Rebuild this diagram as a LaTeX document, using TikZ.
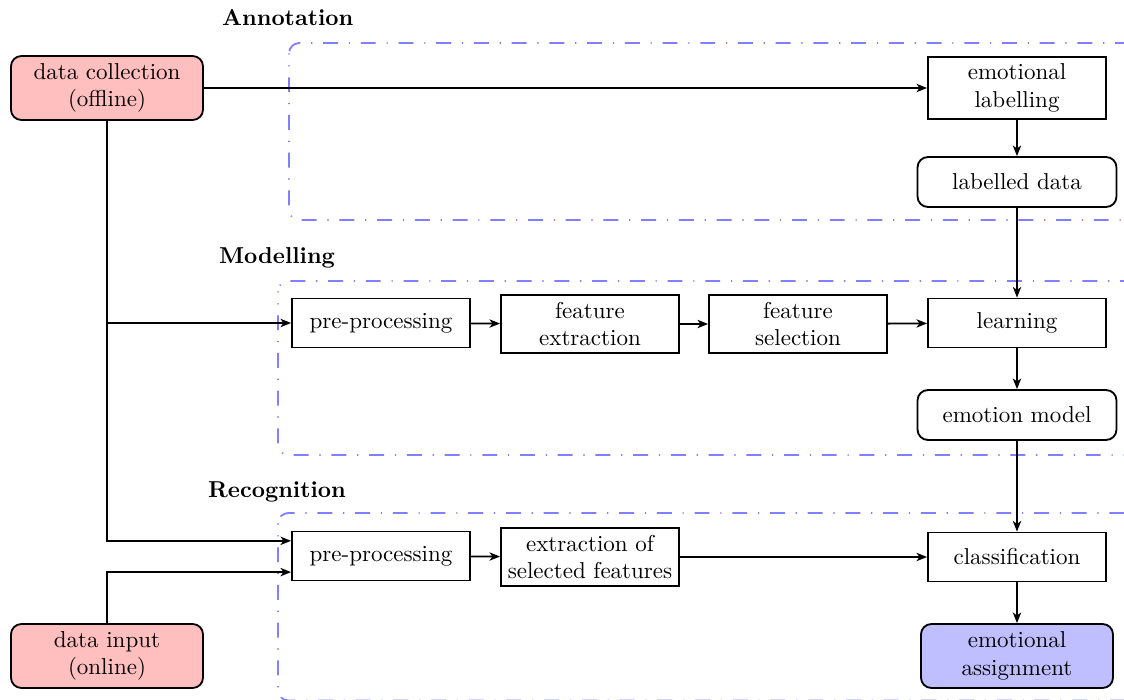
\documentclass[tikz,border=0pt]{standalone}
\usetikzlibrary{arrows.meta}
\begin{document}
\begin{tikzpicture}[x=0.4348pt, y=-0.4348pt,
  every node/.style={font=\normalsize},
  proc/.style={draw, thick, rectangle, minimum width=77.4pt, minimum height=21.3pt, align=center, inner sep=2pt},
  proc2/.style={proc, minimum height=25.4pt},
  datum/.style={draw, thick, rectangle, rounded corners=4.5pt, minimum width=86.5pt, minimum height=21.7pt, align=center},
  source/.style={draw, thick, rectangle, rounded corners=4.5pt, fill=red!25, minimum width=83.5pt, minimum height=27.8pt, align=center, inner sep=2pt},
  result/.style={source, fill=blue!25},
  stage/.style={draw=blue!50, thick, rounded corners=4.5pt, dash pattern=on 6.5pt off 4.7pt on 0.5pt off 4.7pt, dash phase=6pt},
  stagelabel/.style={anchor=west, font=\bfseries},
  flow/.style={thick, -{Stealth[length=4.6pt, width=3.6pt, inset=1.3pt]}}]
\clip (0,0) rectangle (1124,700);

% stage frames (open towards the right)
\draw[stage] (289,43) rectangle (1160,220);
\draw[stage] (278,281) rectangle (1160,455);
\draw[stage] (278,513) rectangle (1160,700.5);
\node[stagelabel] (lab1) at (214,18) {Annotation};
\node[stagelabel] (lab2) at (211,258) {Modelling};
\node[stagelabel] (lab3) at (200,492) {Recognition};

% data sources
\node[source] (dc) at (107,88) {data collection\\(offline)};
\node[result, fill=red!25] (di) at (107,656) {data input\\(online)};

% annotation
\node[proc2, minimum height=27pt] (el) at (1017,88) {emotional\\labelling};
\node[datum] (ld) at (1017,182) {labelled data};

% modelling
\node[proc] (pp1) at (381,323) {pre-processing};
\node[proc2] (fe) at (590,324) {feature\\extraction};
\node[proc2] (fs) at (798,324) {feature\\selection};
\node[proc] (le) at (1017,323) {learning};
\node[datum] (em) at (1017,415) {emotion model};

% recognition
\node[proc] (pp2) at (381,556) {pre-processing};
\node[proc2] (ex) at (590,557) {extraction of\\selected features};
\node[proc] (cl) at (1017,557) {classification};
\node[result] (ea) at (1017,656) {emotional\\assignment};

% connectors
\draw[flow] (dc) -- (el);
\draw[flow] (el) -- (ld);
\draw[flow] (ld) -- (le);
\draw[flow] (dc.south) |- (pp1.west);
\draw[flow] (dc.south) |- ([yshift=6.6pt]pp2.west);
\draw[flow] (di.north) |- ([yshift=-7.0pt]pp2.west);
\draw[flow] (pp1) -- (fe);
\draw[flow] (fe) -- (fs);
\draw[flow] (fs) -- (le);
\draw[flow] (le) -- (em);
\draw[flow] (em) -- (cl);
\draw[flow] (pp2) -- (ex);
\draw[flow] (ex) -- (cl);
\draw[flow] (cl) -- (ea);
\end{tikzpicture}
\end{document}
